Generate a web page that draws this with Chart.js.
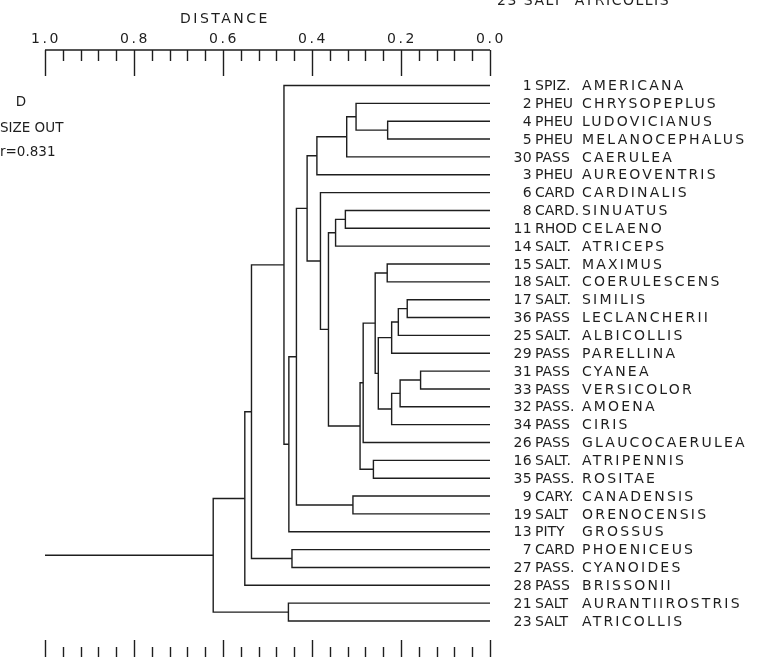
<!DOCTYPE html>
<html>
<head>
<meta charset="utf-8">
<script src="https://cdn.jsdelivr.net/npm/chart.js@4.4.1/dist/chart.umd.min.js"></script>
<style>
  html, body { margin: 0; padding: 0; background: #fff; }
  #wrap { position: relative; width: 759px; height: 657px; }
</style>
</head>
<body>
<div id="wrap"><canvas id="dendro" width="759" height="657"></canvas></div>
<script>
// leaves, top to bottom
const leafNumbers = ['1','2','4','5','30','3','6','8','11','14','15','18','17','36','25','29','31','33','32','34','26','16','35','9','19','13','7','27','28','21','23'];
const leafGenera = ['SPIZ.','PHEU','PHEU','PHEU','PASS','PHEU','CARD','CARD.','RHOD','SALT.','SALT.','SALT.','SALT.','PASS','SALT.','PASS','PASS','PASS','PASS.','PASS','PASS','SALT.','PASS.','CARY.','SALT','PITY','CARD','PASS.','PASS','SALT','SALT'];
const leafSpecies = ['AMERICANA','CHRYSOPEPLUS','LUDOVICIANUS','MELANOCEPHALUS','CAERULEA','AUREOVENTRIS','CARDINALIS','SINUATUS','CELAENO','ATRICEPS','MAXIMUS','COERULESCENS','SIMILIS','LECLANCHERII','ALBICOLLIS','PARELLINA','CYANEA','VERSICOLOR','AMOENA','CIRIS','GLAUCOCAERULEA','ATRIPENNIS','ROSITAE','CANADENSIS','ORENOCENSIS','GROSSUS','PHOENICEUS','CYANOIDES','BRISSONII','AURANTIIROSTRIS','ATRICOLLIS'];

// merges: ids 0-30 are leaves, merge k creates node 31+k
const mergeA = [16,12,31,32,34,33,2,10,35,38,21,40,42,1,23,44,7,47,48,6,46,51,52,26,53,29,0,57,58,59];
const mergeB = [17,13,18,14,15,19,3,11,36,39,22,20,41,37,24,4,8,9,43,49,5,50,45,27,25,30,55,54,28,56];
const mergeHeight = [0.156,0.186,0.202,0.206,0.221,0.221,0.230,0.231,0.251,0.258,0.262,0.285,0.292,0.301,0.308,0.322,0.325,0.347,0.363,0.381,0.389,0.411,0.435,0.445,0.452,0.453,0.463,0.536,0.551,0.622];

// distance ruler
const majorTicks = [1.0, 0.8, 0.6, 0.4, 0.2, 0.0];
const majorLabels = ['1.0', '0.8', '0.6', '0.4', '0.2', '0.0'];
const minorStep = 0.04;

const ink = '#1e1e1e';
const font = '"DejaVu Sans", sans-serif';

// node positions (height, row)
const nLeaves = leafSpecies.length;
const nodeH = [], nodeY = [];
for (let i = 0; i < nLeaves; i++) { nodeH.push(0); nodeY.push(i); }
const datasets = [];
mergeA.forEach((a, k) => {
  const b = mergeB[k], h = mergeHeight[k];
  datasets.push({
    data: [
      {x: nodeH[a], y: nodeY[a]},
      {x: h, y: nodeY[a]},
      {x: h, y: nodeY[b]},
      {x: nodeH[b], y: nodeY[b]}
    ]
  });
  nodeH.push(h);
  nodeY.push((nodeY[a] + nodeY[b]) / 2);
});
// root stub
const root = nodeH.length - 1;
datasets.push({ data: [{x: nodeH[root], y: nodeY[root]}, {x: 1.0, y: nodeY[root]}] });

datasets.forEach(ds => Object.assign(ds, {
  borderColor: ink, borderWidth: 1.4, pointRadius: 0, tension: 0,
  fill: false, clip: false
}));

const decor = {
  id: 'decor',
  afterDraw(chart) {
    const {ctx, scales: {x, y}} = chart;
    ctx.save();
    ctx.fillStyle = ink;
    ctx.strokeStyle = ink;
    ctx.lineWidth = 1.4;

    // top ruler
    const top = 50;
    ctx.beginPath();
    ctx.moveTo(x.getPixelForValue(1), top);
    ctx.lineTo(x.getPixelForValue(0), top);
    for (let v = 0; v <= 1.0001; v += minorStep) {
      const px = Math.round(x.getPixelForValue(v)) + 0.5;
      const major = majorTicks.some(m => Math.abs(m - v) < 1e-6);
      ctx.moveTo(px, top);
      ctx.lineTo(px, top + (major ? 26 : 11));
      // bottom ruler
      ctx.moveTo(px, 657);
      ctx.lineTo(px, major ? 640 : 647);
    }
    ctx.stroke();

    ctx.letterSpacing = '2.5px';
    ctx.font = '14px ' + font;
    ctx.textAlign = 'center';
    ctx.textBaseline = 'middle';
    majorTicks.forEach((m, i) => ctx.fillText(majorLabels[i], x.getPixelForValue(m) + 1, 39));
    ctx.fillText('DISTANCE', 225, 19);

    // panel text
    ctx.font = '13.5px ' + font;
    ctx.letterSpacing = '0px';
    ctx.fillText('D', 21, 102);
    ctx.textAlign = 'left';
    ctx.fillText('SIZE OUT', 0, 128);
    ctx.fillText('r=0.831', 0, 152);

    // leftover caption from the previous panel, cut by the page edge
    ctx.font = '14px ' + font;
    ctx.letterSpacing = '1.5px';
    ctx.fillText('23 SALT  ATRICOLLIS', 497, 1);

    // leaf labels
    ctx.font = '14px ' + font;
    leafSpecies.forEach((sp, i) => {
      const py = y.getPixelForValue(i) + 1;
      ctx.letterSpacing = '0.3px';
      ctx.textAlign = 'right';
      ctx.fillText(leafNumbers[i], 532, py);
      ctx.textAlign = 'left';
      ctx.letterSpacing = '0px';
      ctx.fillText(leafGenera[i], 535, py);
      ctx.letterSpacing = '2.2px';
      ctx.fillText(sp, 582, py);
    });
    ctx.restore();
  }
};

new Chart(document.getElementById('dendro'), {
  type: 'line',
  data: { datasets },
  options: {
    responsive: false,
    animation: false,
    devicePixelRatio: 1,
    layout: { padding: { left: 45, right: 269, top: 85.5, bottom: 36 } },
    plugins: { legend: { display: false }, tooltip: { enabled: false } },
    scales: {
      x: { type: 'linear', min: 0, max: 1, reverse: true, display: false },
      y: { type: 'linear', min: 0, max: nLeaves - 1, reverse: true, display: false }
    }
  },
  plugins: [decor]
});
</script>
</body>
</html>
